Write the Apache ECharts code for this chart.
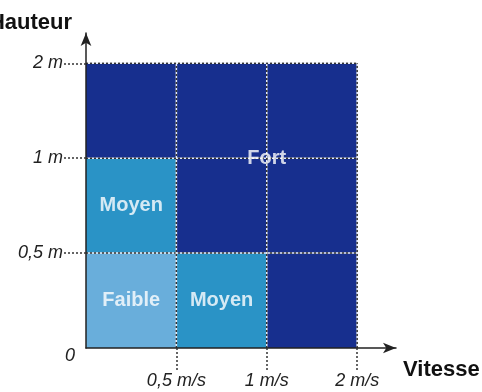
<!DOCTYPE html>
<html>
<head>
<meta charset="utf-8">
<script src="https://cdn.jsdelivr.net/npm/echarts@6/dist/echarts.min.js"></script>
<style>
  html, body { margin: 0; padding: 0; background: #fff; }
  #chart { width: 482px; height: 392px; }
</style>
</head>
<body>
<div id="chart"></div>
<script>
// tick labels (x at 1..3, y at 0..3)
const xLabels = ['0,5 m/s', '1 m/s', '2 m/s']
const yLabels = ['0', '0,5 m', '1 m', '2 m']

// zones, rows from bottom: 0 = Faible, 1 = Moyen, 2 = Fort
const zoneNames = ['Faible', 'Moyen', 'Fort']
const zoneGrid = [
  [0, 1, 2],
  [1, 2, 2],
  [2, 2, 2]
]
const zoneColors = ['#69aedb', '#2a93c6', '#172f8e']

// zone labels [text, x, y]
const zoneLabels = [
  ['Faible', 0.5, 0.5],
  ['Moyen', 1.5, 0.5],
  ['Moyen', 0.5, 1.5],
  ['Fort', 2, 2]
]

const gridLines = [1, 2, 3]

const cells = []
zoneGrid.forEach((row, yi) => {
  row.forEach((lvl, xi) => {
    cells.push([xi, yi, lvl])
  })
})

const font = 'Liberation Sans, Arial, sans-serif'
const dotted = { type: [2, 2], color: '#333', width: 1.5 }
const tickText = { fontFamily: font, fontSize: 18, fontStyle: 'italic', color: '#222' }

const chart = echarts.init(document.getElementById('chart'))

const option = {
  animation: false,
  grid: { left: 86, right: 86, top: 33, bottom: 44, outerBoundsMode: 'none', containLabel: false },
  xAxis: {
    type: 'value',
    min: 0,
    max: 3.43,
    z: 5,
    name: 'Vitesse',
    nameLocation: 'end',
    nameGap: 7,
    nameTextStyle: {
      fontFamily: font, fontSize: 22, fontWeight: 'bold', color: '#111',
      align: 'left', verticalAlign: 'top', padding: [11, 0, 0, 0]
    },
    axisLine: {
      show: true,
      symbol: ['none', 'arrow'],
      symbolSize: [8, 13],
      lineStyle: { color: '#222', width: 1.5 }
    },
    axisTick: { show: true, customValues: [1, 2, 3], length: 22, lineStyle: dotted },
    axisLabel: {
      customValues: [1, 2, 3],
      margin: 24,
      ...tickText,
      formatter: v => '{t|' + xLabels[Math.round(v) - 1] + '}',
      rich: { t: tickText }
    },
    splitLine: { show: false }
  },
  yAxis: {
    type: 'value',
    min: 0,
    max: 3.32,
    z: 5,
    name: 'Hauteur',
    nameLocation: 'end',
    nameGap: 10,
    nameTextStyle: {
      fontFamily: font, fontSize: 22, fontWeight: 'bold', color: '#111',
      align: 'right', verticalAlign: 'middle', padding: [0, 14, 0, 0]
    },
    axisLine: {
      show: true,
      symbol: ['none', 'arrow'],
      symbolSize: [8, 13],
      lineStyle: { color: '#222', width: 1.5 }
    },
    axisTick: { show: true, customValues: [1, 2, 3], length: 22, lineStyle: dotted },
    axisLabel: {
      customValues: [0, 1, 2, 3],
      margin: 23,
      ...tickText,
      formatter: v => {
        const i = Math.round(v)
        return i === 0 ? '{z|' + yLabels[0] + '}' : '{t|' + yLabels[i] + '}'
      },
      rich: {
        t: tickText,
        z: { ...tickText, padding: [16, -12, 0, 0] }
      }
    },
    splitLine: { show: false }
  },
  series: [
    {
      // zone cells
      type: 'custom',
      z: 1,
      data: cells,
      renderItem: (params, api) => {
        const x = api.value(0)
        const y = api.value(1)
        const lvl = api.value(2)
        const p0 = api.coord([x, y + 1])
        const p1 = api.coord([x + 1, y])
        return {
          type: 'rect',
          shape: { x: p0[0], y: p0[1], width: p1[0] - p0[0], height: p1[1] - p0[1] },
          style: { fill: zoneColors[lvl] }
        }
      }
    },
    {
      // dotted grid lines over the cells
      type: 'custom',
      z: 2,
      data: gridLines,
      renderItem: (params, api) => {
        const k = api.value(0)
        const h0 = api.coord([0, k])
        const h1 = api.coord([3, k])
        const v0 = api.coord([k, 0])
        const v1 = api.coord([k, 3])
        const mk = (a, b, style) => ({
          type: 'line',
          shape: { x1: a[0], y1: a[1], x2: b[0], y2: b[1] },
          style: style
        })
        const white = { stroke: '#e8ecf5', lineWidth: 1.5 }
        const dark = { stroke: '#333', lineWidth: 1.5, lineDash: [2, 2] }
        return {
          type: 'group',
          children: [
            mk(h0, h1, white), mk(h0, h1, dark),
            mk(v0, v1, white), mk(v0, v1, dark)
          ]
        }
      }
    },
    {
      // zone names
      type: 'scatter',
      z: 3,
      symbolSize: 0,
      data: zoneLabels.map(d => ({ name: d[0], value: [d[1], d[2]] })),
      label: {
        show: true,
        position: 'inside',
        formatter: p => p.name,
        fontFamily: font,
        fontSize: 20,
        fontWeight: 'bold',
        color: '#fff'
      }
    }
  ]
}

chart.setOption(option)
</script>
</body>
</html>
